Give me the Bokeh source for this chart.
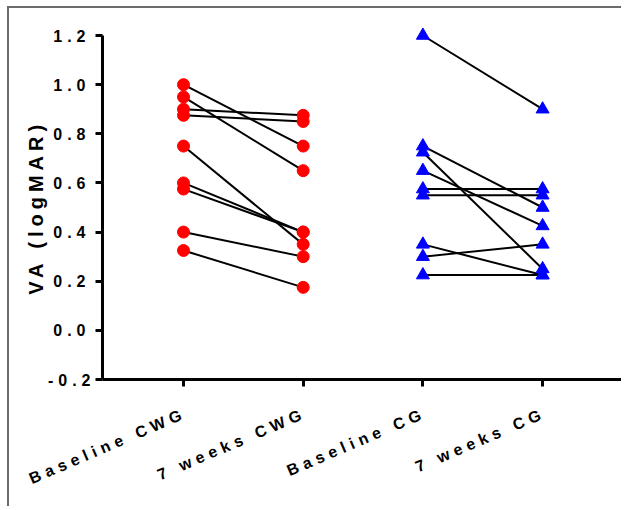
import math
from bokeh.plotting import figure
from bokeh.models import Range1d, FixedTicker, ColumnDataSource, PrintfTickFormatter
from bokeh.core.properties import value
from bokeh.embed import file_html
from bokeh.resources import INLINE

# ---- data ----
categories = ["Baseline CWG", "7 weeks CWG", "Baseline CG", "7 weeks CG"]
cwg_baseline = [1.0, 0.95, 0.9, 0.875, 0.75, 0.6, 0.575, 0.4, 0.325]
cwg_7weeks = [0.75, 0.65, 0.875, 0.85, 0.35, 0.4, 0.4, 0.3, 0.175]
cg_baseline = [1.2, 0.75, 0.725, 0.65, 0.575, 0.55, 0.35, 0.3, 0.225]
cg_7weeks = [0.9, 0.5, 0.25, 0.425, 0.575, 0.55, 0.225, 0.35, 0.225]
y_ticks = [-0.2, 0.0, 0.2, 0.4, 0.6, 0.8, 1.0, 1.2]
y_label = "VA (logMAR)"

pos = {c: i + 1 for i, c in enumerate(categories)}
y_min, y_max = y_ticks[0], y_ticks[-1]

FONT = "Liberation Sans"
LS = 5  # letter spacing (px)

# layout (screen px inside the figure)
W, H = 614, 500
PX_X = 119.7                      # px per category
PX_Y = 344 / (y_max - y_min)      # px per y unit
first_cat_px, axis_left_px, axis_right_px = 174, 93, 613
top_px, bottom_px = 27, 371       # y_max / y_min screen rows

x_start = 1 - first_cat_px / PX_X
x_end = 1 + (W - first_cat_px) / PX_X
y_top = y_max + top_px / PX_Y
y_bot = y_min - (H - bottom_px) / PX_Y
x_axis_loc = 1 - (first_cat_px - axis_left_px) / PX_X
x_axis_end = 1 + (axis_right_px - first_cat_px) / PX_X

p = figure(width=W, height=H, output_backend="svg", toolbar_location=None,
           x_range=Range1d(x_start, x_end), y_range=Range1d(y_bot, y_top),
           min_border=0)
p.styles = {"margin-left": "7px", "margin-top": "6px",
            "border-top": "2px solid #6b6b6b", "border-left": "2px solid #6b6b6b",
            "letter-spacing": f"{LS}px"}
p.outline_line_color = None
p.xgrid.visible = False
p.ygrid.visible = False
p.background_fill_color = "white"
p.border_fill_color = "white"

def pairs(base, after, c0, c1):
    n = len(base)
    return ColumnDataSource(dict(x0=[pos[c0]] * n, y0=base, x1=[pos[c1]] * n, y1=after))

s1 = pairs(cwg_baseline, cwg_7weeks, categories[0], categories[1])
s2 = pairs(cg_baseline, cg_7weeks, categories[2], categories[3])
for s in (s1, s2):
    p.segment("x0", "y0", "x1", "y1", source=s, line_color="black", line_width=2)

p.scatter("x0", "y0", source=s1, marker="circle", size=12, fill_color="#ff0000", line_color="#ff0000")
p.scatter("x1", "y1", source=s1, marker="circle", size=12, fill_color="#ff0000", line_color="#ff0000")
p.scatter("x0", "y0", source=s2, marker="triangle", size=13, fill_color="#0000ff", line_color="#0000ff")
p.scatter("x1", "y1", source=s2, marker="triangle", size=13, fill_color="#0000ff", line_color="#0000ff")

# axes (placed at fixed locations inside the frame)
for ax in (p.xaxis[0], p.yaxis[0]):
    ax.axis_line_width = 3
    ax.axis_line_color = "black"
    ax.major_tick_line_width = 3
    ax.major_tick_line_color = "black"
    ax.major_tick_out = 7
    ax.major_tick_in = 0
    ax.minor_tick_line_color = None
    ax.major_label_text_font = FONT
    ax.major_label_text_font_style = "bold"
    ax.major_label_text_color = "black"

p.yaxis.fixed_location = x_axis_loc
p.yaxis.bounds = (y_min, y_max)
p.yaxis.ticker = FixedTicker(ticks=y_ticks)
p.yaxis.formatter = PrintfTickFormatter(format="%.1f")
p.yaxis.major_label_text_font_size = "16px"
p.yaxis.major_label_standoff = 20

p.xaxis.fixed_location = y_min
p.xaxis.bounds = (x_axis_loc, x_axis_end)
p.xaxis.ticker = FixedTicker(ticks=[pos[c] for c in categories])
p.xaxis.major_label_overrides = {pos[c]: " " for c in categories}
p.xaxis.major_label_text_font_size = "1px"

# rotated category labels (letter-spacing compensated)
ang = 0.405
extra = [(len(c) - 1) * LS for c in categories]
lab = ColumnDataSource(dict(
    x=[pos[c] for c in categories], y=[y_min] * len(categories), text=categories,
    xo=[-6 - e * math.cos(ang) for e in extra],
    yo=[27 + e * math.sin(ang) for e in extra]))
p.text("x", "y", text="text", source=lab, angle=ang, text_align="right",
       text_baseline="top", x_offset="xo", y_offset="yo",
       text_font=value(FONT), text_font_style="bold",
       text_font_size=value("16px"), text_color="black")

# y axis title
ttl = ColumnDataSource(dict(x=[x_axis_loc], y=[(y_min + y_max) / 2], text=[y_label]))
p.text("x", "y", text="text", source=ttl, angle=math.pi / 2, text_align="center",
       text_baseline="middle", x_offset=-67,
       y_offset=2 + (len(y_label) - 1) * LS / 2,
       text_font=value(FONT), text_font_style="bold",
       text_font_size=value("20px"), text_color="black")

open("out.html", "w").write(file_html(p, INLINE))
